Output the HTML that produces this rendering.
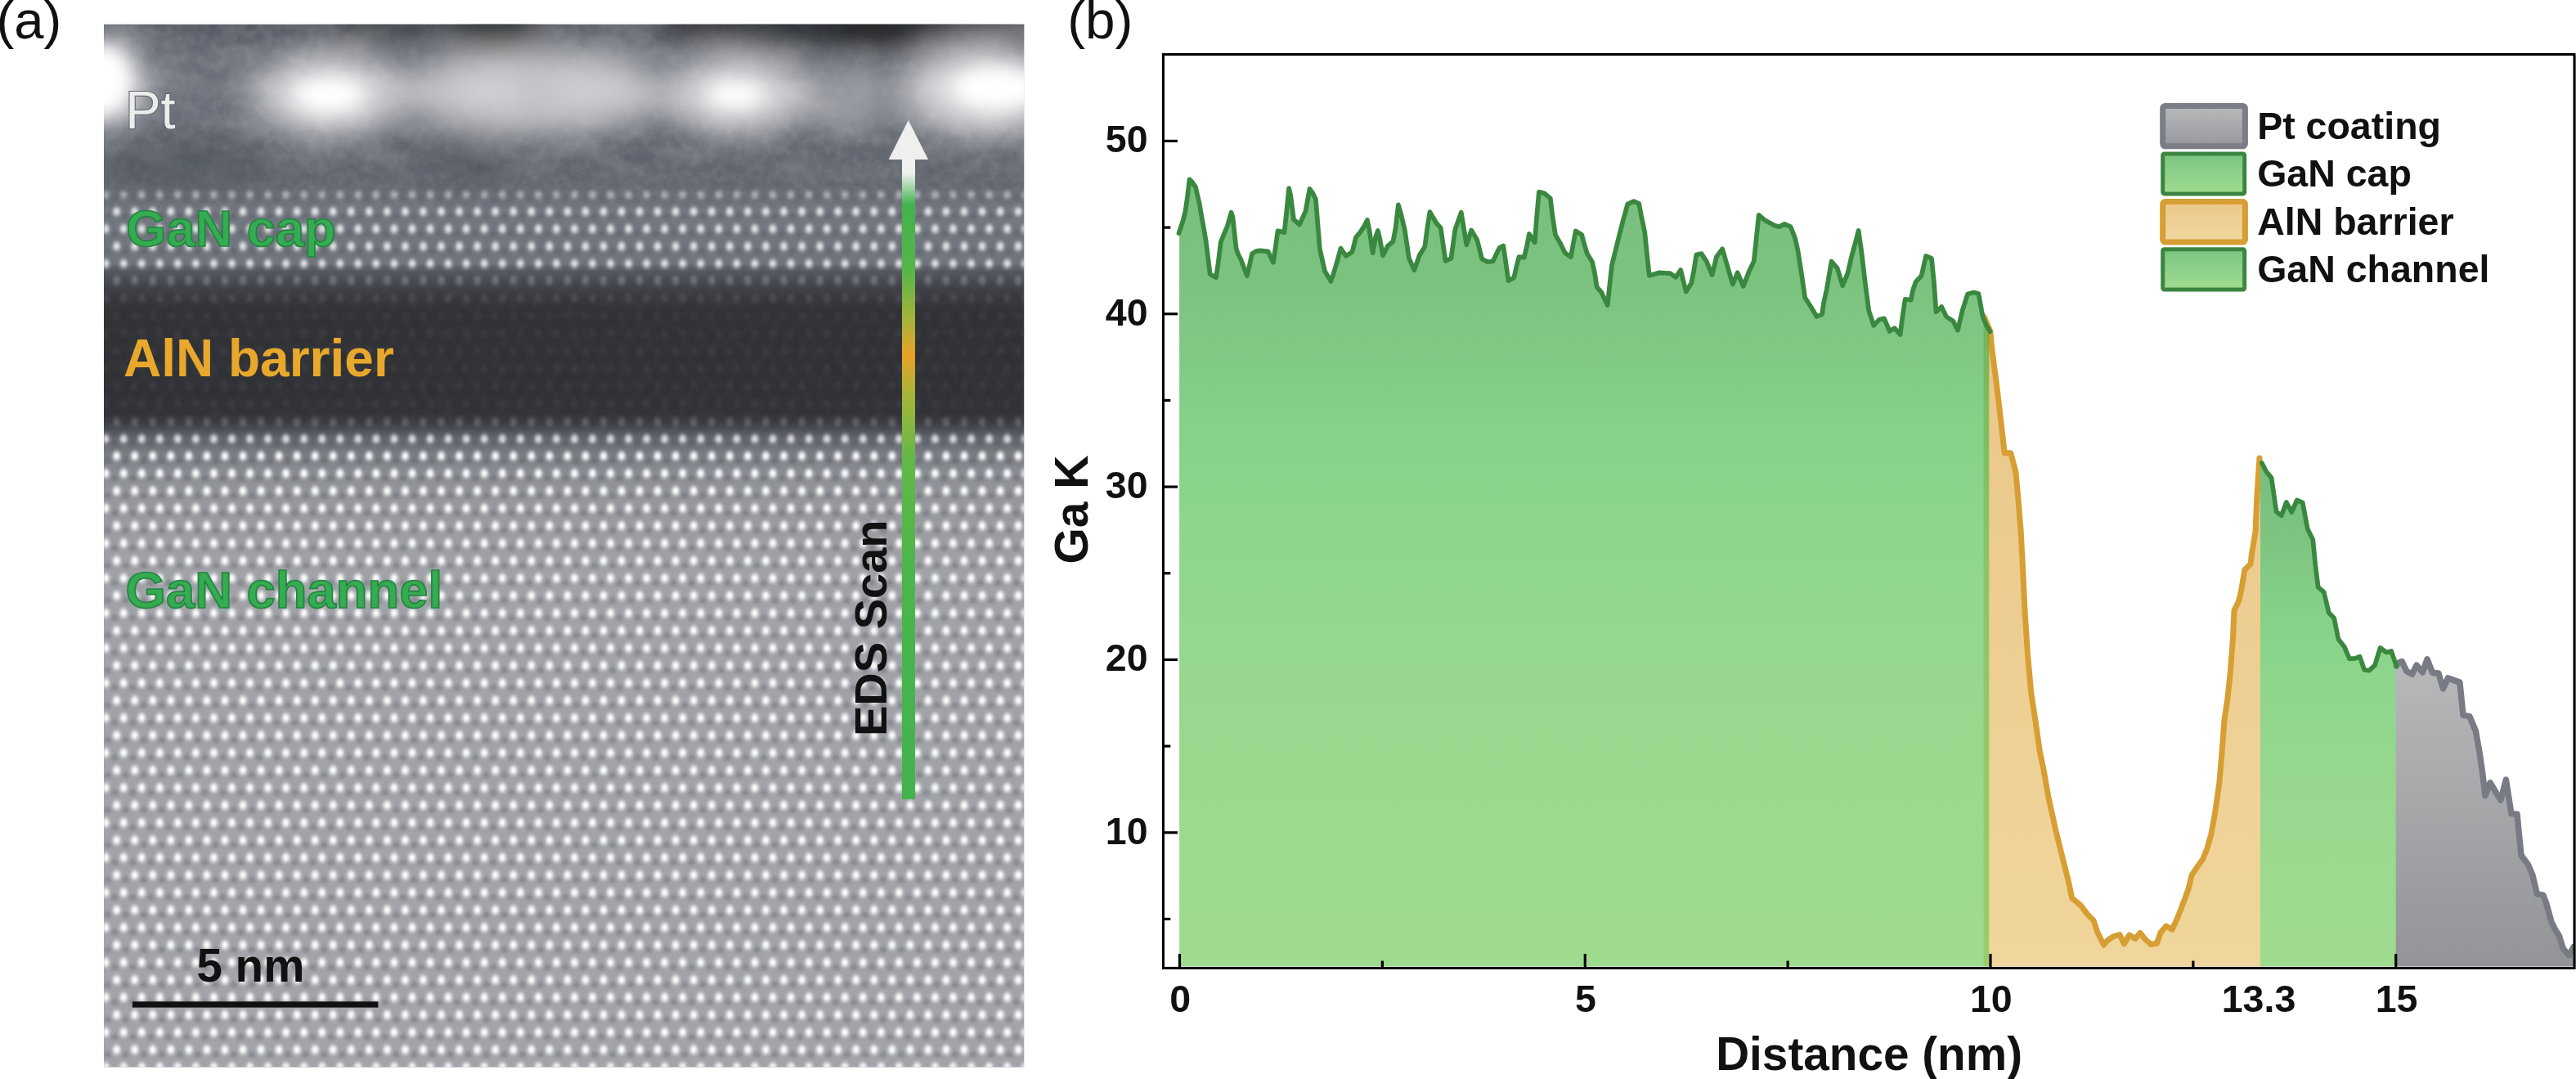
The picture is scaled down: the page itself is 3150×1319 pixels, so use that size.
<!DOCTYPE html>
<html><head><meta charset="utf-8"><title>Figure</title>
<style>
html,body{margin:0;padding:0;background:#fff;}
body{width:3150px;height:1319px;overflow:hidden;position:relative;}
svg{display:block;position:absolute;left:0;top:0;will-change:transform;}
text{font-family:"Liberation Sans",sans-serif;}
.b{font-weight:bold;}
</style></head><body>
<svg width="3150" height="1319" viewBox="0 0 3150 1319">
<defs>

<clipPath id="temclip"><rect x="127.0" y="29.5" width="1125.5" height="1275.3"/></clipPath>
<radialGradient id="dot"><stop offset="0" stop-color="#fff" stop-opacity="1"/><stop offset="0.28" stop-color="#fff" stop-opacity="0.96"/><stop offset="0.55" stop-color="#fff" stop-opacity="0.52"/><stop offset="0.8" stop-color="#fff" stop-opacity="0.16"/><stop offset="1" stop-color="#fff" stop-opacity="0"/></radialGradient>
<radialGradient id="dk"><stop offset="0" stop-color="#33363e" stop-opacity="0.3"/><stop offset="1" stop-color="#33363e" stop-opacity="0"/></radialGradient>
<pattern id="lat" x="129.15" y="226.325" width="22.05" height="42.7" patternUnits="userSpaceOnUse"><ellipse cx="11.03" cy="16.68" rx="6.5" ry="6" fill="url(#dk)"/><ellipse cx="24.52" cy="38.03" rx="6.5" ry="6" fill="url(#dk)"/><ellipse cx="2.47" cy="38.03" rx="6.5" ry="6" fill="url(#dk)"/><ellipse cx="0.00" cy="10.68" rx="7.3" ry="8.9" fill="url(#dot)"/><ellipse cx="22.05" cy="10.68" rx="7.3" ry="8.9" fill="url(#dot)"/><ellipse cx="13.50" cy="32.03" rx="7.3" ry="8.9" fill="url(#dot)"/><ellipse cx="-8.55" cy="32.03" rx="7.3" ry="8.9" fill="url(#dot)"/><ellipse cx="35.55" cy="32.03" rx="7.3" ry="8.9" fill="url(#dot)"/></pattern>

<linearGradient id="tembg" gradientUnits="userSpaceOnUse" x1="0" y1="29.5" x2="0" y2="1304.8">
<stop offset="0.0000" stop-color="#555963"/>
<stop offset="0.0239" stop-color="#646872"/>
<stop offset="0.0631" stop-color="#6e727c"/>
<stop offset="0.0945" stop-color="#686c76"/>
<stop offset="0.1141" stop-color="#5e626c"/>
<stop offset="0.1533" stop-color="#62666f"/>
<stop offset="0.1627" stop-color="#696d76"/>
<stop offset="0.1792" stop-color="#72767f"/>
<stop offset="0.2294" stop-color="#70747d"/>
<stop offset="0.2372" stop-color="#555860"/>
<stop offset="0.2474" stop-color="#45484f"/>
<stop offset="0.2607" stop-color="#393a3f"/>
<stop offset="0.2748" stop-color="#313236"/>
<stop offset="0.3533" stop-color="#303135"/>
<stop offset="0.3729" stop-color="#323338"/>
<stop offset="0.3815" stop-color="#393b42"/>
<stop offset="0.3901" stop-color="#50535a"/>
<stop offset="0.3987" stop-color="#676a72"/>
<stop offset="0.4160" stop-color="#7e8188"/>
<stop offset="0.4332" stop-color="#8c8f95"/>
<stop offset="0.4552" stop-color="#95979d"/>
<stop offset="0.4944" stop-color="#9c9ea3"/>
<stop offset="0.5258" stop-color="#a0a2a7"/>
<stop offset="1.0000" stop-color="#a2a4a9"/>
</linearGradient>
<linearGradient id="latmg" gradientUnits="userSpaceOnUse" x1="0" y1="29.5" x2="0" y2="1304.8">
<stop offset="0.0000" stop-color="rgb(0,0,0)"/>
<stop offset="0.1541" stop-color="rgb(0,0,0)"/>
<stop offset="0.1627" stop-color="rgb(102,102,102)"/>
<stop offset="0.1792" stop-color="rgb(199,199,199)"/>
<stop offset="0.2294" stop-color="rgb(199,199,199)"/>
<stop offset="0.2450" stop-color="rgb(56,56,56)"/>
<stop offset="0.2592" stop-color="rgb(26,26,26)"/>
<stop offset="0.2748" stop-color="rgb(10,10,10)"/>
<stop offset="0.3689" stop-color="rgb(10,10,10)"/>
<stop offset="0.3823" stop-color="rgb(51,51,51)"/>
<stop offset="0.3987" stop-color="rgb(204,204,204)"/>
<stop offset="0.4160" stop-color="rgb(255,255,255)"/>
<stop offset="1.0000" stop-color="rgb(255,255,255)"/>
</linearGradient>
<mask id="latmask" maskUnits="userSpaceOnUse" x="127.0" y="29.5" width="1125.5" height="1275.3"><rect x="127.0" y="29.5" width="1125.5" height="1275.3" fill="url(#latmg)"/></mask>
<filter id="blur30" x="-50%" y="-50%" width="200%" height="200%"><feGaussianBlur stdDeviation="20"/></filter>
<filter id="blur14" x="-50%" y="-50%" width="200%" height="200%"><feGaussianBlur stdDeviation="11"/></filter>
<linearGradient id="gm1g" gradientUnits="userSpaceOnUse" x1="0" y1="29.5" x2="0" y2="1304.8"><stop offset="0" stop-color="#fff"/><stop offset="0.15" stop-color="#fff"/><stop offset="0.19" stop-color="#666"/><stop offset="0.24" stop-color="#3a3a3a"/><stop offset="0.4" stop-color="#3a3a3a"/><stop offset="0.45" stop-color="#555"/><stop offset="1" stop-color="#555"/></linearGradient>
<linearGradient id="gm2g" gradientUnits="userSpaceOnUse" x1="0" y1="29.5" x2="0" y2="270"><stop offset="0" stop-color="#fff"/><stop offset="0.68" stop-color="#fff"/><stop offset="0.86" stop-color="#000"/><stop offset="1" stop-color="#000"/></linearGradient>
<mask id="gm1" maskUnits="userSpaceOnUse" x="127.0" y="29.5" width="1125.5" height="1275.3"><rect x="127.0" y="29.5" width="1125.5" height="1275.3" fill="url(#gm1g)"/></mask>
<mask id="gm2" maskUnits="userSpaceOnUse" x="127.0" y="29.5" width="1125.5" height="240"><rect x="127.0" y="29.5" width="1125.5" height="240" fill="url(#gm2g)"/></mask>
<filter id="lblur" x="0" y="0" width="100%" height="100%"><feGaussianBlur stdDeviation="1.1"/></filter>
<filter id="grain2" x="0" y="0" width="100%" height="100%"><feTurbulence type="fractalNoise" baseFrequency="0.022 0.035" numOctaves="2" seed="3" result="n"/><feColorMatrix in="n" type="matrix" values="0 0 0 0 0.5  0 0 0 0 0.5  0 0 0 0 0.5  2.2 0 0 0 -0.8"/></filter>
<filter id="grain" x="0" y="0" width="100%" height="100%"><feTurbulence type="fractalNoise" baseFrequency="0.09" numOctaves="3" seed="7" result="n"/><feColorMatrix in="n" type="matrix" values="0 0 0 0 0.5  0 0 0 0 0.5  0 0 0 0 0.5  1.6 0 0 0 -0.55"/></filter>
<linearGradient id="arrg" gradientUnits="userSpaceOnUse" x1="0" y1="190" x2="0" y2="977">
<stop offset="0" stop-color="#efefed"/><stop offset="0.0280" stop-color="#efefed"/>
<stop offset="0.0762" stop-color="#42b24b"/>
<stop offset="0.1779" stop-color="#55b548"/>
<stop offset="0.2541" stop-color="#a4b43a"/>
<stop offset="0.3100" stop-color="#e9a226"/>
<stop offset="0.3685" stop-color="#a9b539"/>
<stop offset="0.4701" stop-color="#62b846"/>
<stop offset="0.6480" stop-color="#4bb54b"/>
<stop offset="1" stop-color="#43b24e"/></linearGradient>

<linearGradient id="gGreen" gradientUnits="userSpaceOnUse" x1="0" y1="219" x2="0" y2="1181"><stop offset="0" stop-color="#319b3c"/><stop offset="0.12" stop-color="#35a13a"/><stop offset="0.21" stop-color="#3daa40"/><stop offset="0.3" stop-color="#43b848"/><stop offset="0.45" stop-color="#51c04e"/><stop offset="0.66" stop-color="#61c351"/><stop offset="1" stop-color="#6ac853"/></linearGradient>
<linearGradient id="gCap" gradientUnits="userSpaceOnUse" x1="0" y1="560" x2="0" y2="1181"><stop offset="0" stop-color="#79be80"/><stop offset="0.12" stop-color="#7cc27f"/><stop offset="0.21" stop-color="#81c883"/><stop offset="0.3" stop-color="#85d188"/><stop offset="0.45" stop-color="#8ed68c"/><stop offset="0.66" stop-color="#98d88e"/><stop offset="1" stop-color="#9edb8f"/></linearGradient>
<linearGradient id="gOr" gradientUnits="userSpaceOnUse" x1="0" y1="387" x2="0" y2="1181"><stop offset="0" stop-color="#eac688"/><stop offset="1" stop-color="#f0d69c"/></linearGradient>
<linearGradient id="gGy" gradientUnits="userSpaceOnUse" x1="0" y1="810" x2="0" y2="1181"><stop offset="0" stop-color="#b8b8ba"/><stop offset="1" stop-color="#939498"/></linearGradient>
<linearGradient id="lgGy" gradientUnits="userSpaceOnUse" x1="0" y1="133" x2="0" y2="176"><stop offset="0" stop-color="#b6b7b9"/><stop offset="1" stop-color="#999a9e"/></linearGradient>
<linearGradient id="lgGn" gradientUnits="userSpaceOnUse" x1="0" y1="190" x2="0" y2="235"><stop offset="0" stop-color="#7dc583"/><stop offset="1" stop-color="#9ddc8f"/></linearGradient>
<linearGradient id="lgOr" gradientUnits="userSpaceOnUse" x1="0" y1="250" x2="0" y2="293"><stop offset="0" stop-color="#ebc88b"/><stop offset="1" stop-color="#f0d7a0"/></linearGradient>
<linearGradient id="lgGn2" gradientUnits="userSpaceOnUse" x1="0" y1="307" x2="0" y2="352"><stop offset="0" stop-color="#7dc583"/><stop offset="1" stop-color="#9ddc8f"/></linearGradient>
</defs>
<g clip-path="url(#temclip)">
<rect x="127.0" y="29.5" width="1125.5" height="1275.3" fill="url(#tembg)"/>
<rect x="127.0" y="29.5" width="1125.5" height="1275.3" filter="url(#grain)" opacity="0.2" mask="url(#gm1)"/>
<rect x="127.0" y="29.5" width="1125.5" height="240" filter="url(#grain2)" opacity="0.22" mask="url(#gm2)"/>
<g filter="url(#blur30)">
<ellipse cx="128" cy="100" rx="45" ry="50" fill="#ffffff" fill-opacity="1.0"/>
<ellipse cx="402" cy="116" rx="92" ry="50" fill="#ffffff" fill-opacity="0.7"/>
<ellipse cx="650" cy="112" rx="160" ry="52" fill="#d0d1d3" fill-opacity="0.85"/>
<ellipse cx="595" cy="108" rx="40" ry="25" fill="#dcdcde" fill-opacity="0.6"/>
<ellipse cx="735" cy="110" rx="60" ry="35" fill="#d6d6d8" fill-opacity="0.5"/>
<ellipse cx="900" cy="116" rx="88" ry="46" fill="#ffffff" fill-opacity="0.7"/>
<ellipse cx="1035" cy="122" rx="55" ry="40" fill="#b6b7ba" fill-opacity="0.6"/>
<ellipse cx="1200" cy="112" rx="95" ry="55" fill="#ffffff" fill-opacity="0.7"/>
<ellipse cx="608" cy="36" rx="60" ry="26" fill="#101215" fill-opacity="1.0"/>
<ellipse cx="608" cy="36" rx="40" ry="16" fill="#101215" fill-opacity="1.0"/>
<ellipse cx="465" cy="33" rx="80" ry="16" fill="#30333a" fill-opacity="0.8"/>
<ellipse cx="1030" cy="30" rx="235" ry="24" fill="#24262b" fill-opacity="0.95"/>
<ellipse cx="1070" cy="36" rx="60" ry="20" fill="#101215" fill-opacity="0.8"/>
<ellipse cx="850" cy="30" rx="50" ry="16" fill="#202226" fill-opacity="0.7"/>
<ellipse cx="230" cy="202" rx="115" ry="22" fill="#4a4e57" fill-opacity="0.6"/>
<ellipse cx="575" cy="195" rx="42" ry="25" fill="#454952" fill-opacity="0.6"/>
<ellipse cx="760" cy="40" rx="30" ry="12" fill="#a0a3aa" fill-opacity="0.5"/>
</g>
<g filter="url(#blur14)">
<ellipse cx="402" cy="116" rx="44" ry="22" fill="#fff" fill-opacity="1"/>
<ellipse cx="900" cy="116" rx="36" ry="17" fill="#fff" fill-opacity="1"/>
<ellipse cx="1218" cy="108" rx="56" ry="27" fill="#fff" fill-opacity="1"/>
<ellipse cx="123" cy="98" rx="32" ry="40" fill="#fff" fill-opacity="1"/>
</g>
<rect x="127.0" y="29.5" width="1125.5" height="1275.3" fill="url(#lat)" mask="url(#latmask)" filter="url(#lblur)"/>
</g>
<text x="153.2" y="156.6" font-size="65" fill="#ececec" stroke="#62656d" stroke-width="2.2" stroke-linejoin="miter" paint-order="stroke">Pt</text>
<text class="b" x="154.3" y="301" font-size="63.2" fill="#35ab52" stroke="#23843e" stroke-width="1.7">GaN cap</text>
<text class="b" x="151" y="460.4" font-size="64" fill="#e8a82c">AlN barrier</text>
<text class="b" x="153.6" y="743" font-size="63.4" fill="#35ab52" stroke="#23843e" stroke-width="1.7">GaN channel</text>
<rect x="1103" y="190" width="16" height="787" fill="url(#arrg)"/>
<polygon points="1110.8,147 1135,195 1086.6,195" fill="#efefed"/>
<text class="b" transform="translate(1084.4,900) rotate(-90)" font-size="56" fill="#111">EDS Scan</text>
<rect x="162" y="1224.3" width="300.5" height="7.3" fill="#111"/>
<text class="b" x="240.5" y="1199.9" font-size="56.5" fill="#111">5 nm</text>
<text x="-4.6" y="46.9" font-size="65.3" fill="#111">(a)</text>
<text x="1305.2" y="46.8" font-size="65.6" fill="#111">(b)</text>
<polygon points="2425.6,1181.3 2425.6,386 2433.8,405.0 2436.2,430.0 2441.2,467.5 2446.2,510.0 2451.2,553.8 2458.8,553.8 2465.0,577.5 2467.5,605.0 2471.2,649.8 2473.8,700.0 2476.2,750.0 2479.5,800.0 2483.8,847.5 2488.8,880.0 2494.5,919.8 2498.8,940.0 2505.0,975.0 2513.8,1015.0 2522.5,1050.0 2528.8,1075.0 2533.8,1098.0 2543.8,1106.2 2552.5,1117.5 2560.0,1125.0 2565.0,1140.0 2572.5,1155.0 2578.0,1148.8 2585.0,1144.5 2592.0,1142.5 2597.5,1153.8 2603.8,1143.0 2611.2,1147.5 2617.0,1140.5 2623.8,1148.8 2630.5,1154.5 2637.5,1153.0 2642.0,1140.0 2648.8,1132.0 2656.2,1136.2 2662.5,1122.5 2671.2,1100.0 2676.2,1086.2 2680.0,1070.0 2687.5,1058.8 2693.8,1050.0 2698.8,1037.5 2703.8,1020.0 2708.8,992.5 2713.8,957.5 2717.0,920.0 2720.0,880.0 2723.8,855.0 2727.5,820.0 2730.5,780.0 2732.0,746.2 2737.5,735.0 2740.5,722.5 2745.0,696.2 2752.0,689.5 2753.8,675.0 2758.0,650.0 2760.0,605.0 2763.0,560.0 2764,560.0 2764,1181.3" fill="url(#gOr)"/>
<polyline points="2426.2,387.5 2433.8,405.0 2436.2,430.0 2441.2,467.5 2446.2,510.0 2451.2,553.8 2458.8,553.8 2465.0,577.5 2467.5,605.0 2471.2,649.8 2473.8,700.0 2476.2,750.0 2479.5,800.0 2483.8,847.5 2488.8,880.0 2494.5,919.8 2498.8,940.0 2505.0,975.0 2513.8,1015.0 2522.5,1050.0 2528.8,1075.0 2533.8,1098.0 2543.8,1106.2 2552.5,1117.5 2560.0,1125.0 2565.0,1140.0 2572.5,1155.0 2578.0,1148.8 2585.0,1144.5 2592.0,1142.5 2597.5,1153.8 2603.8,1143.0 2611.2,1147.5 2617.0,1140.5 2623.8,1148.8 2630.5,1154.5 2637.5,1153.0 2642.0,1140.0 2648.8,1132.0 2656.2,1136.2 2662.5,1122.5 2671.2,1100.0 2676.2,1086.2 2680.0,1070.0 2687.5,1058.8 2693.8,1050.0 2698.8,1037.5 2703.8,1020.0 2708.8,992.5 2713.8,957.5 2717.0,920.0 2720.0,880.0 2723.8,855.0 2727.5,820.0 2730.5,780.0 2732.0,746.2 2737.5,735.0 2740.5,722.5 2745.0,696.2 2752.0,689.5 2753.8,675.0 2758.0,650.0 2760.0,605.0 2763.0,560.0" fill="none" stroke="#d79e33" stroke-width="7" stroke-linejoin="round" stroke-linecap="round"/>
<polygon points="1442.1,1181.3 1442.1,285.1 1446.7,269.3 1449.5,258.2 1451.9,241.5 1454.5,219.3 1457.8,222.6 1461.9,228.5 1466.7,248.9 1469.9,267.5 1474.5,293.4 1479.7,335.1 1483.8,337.5 1487.1,339.4 1489.7,321.2 1492.7,296.2 1496.4,286.9 1500.4,277.7 1505.6,259.7 1507.5,265.6 1511.6,303.6 1513.8,310.1 1517.5,317.5 1524.9,337.0 1528.2,323.1 1531.0,310.1 1536.6,306.8 1541.2,306.4 1550.5,307.3 1557.0,320.8 1559.7,302.7 1562.5,282.3 1570.5,284.1 1573.1,260.0 1576.1,230.0 1578.3,239.7 1582.0,268.4 1589.0,274.5 1593.1,265.6 1596.5,258.2 1601.5,230.8 1605.2,235.9 1608.9,243.4 1610.7,265.6 1613.9,304.5 1620.0,331.4 1627.4,343.8 1630.2,336.0 1635.7,317.5 1639.5,303.6 1645.9,312.9 1653.4,308.2 1658.0,290.1 1663.2,284.1 1668.2,276.4 1671.9,268.9 1674.3,280.4 1678.7,309.2 1682.1,289.7 1684.9,281.9 1687.6,293.4 1691.0,312.3 1696.9,300.8 1703.4,295.3 1706.6,278.6 1709.9,250.4 1712.7,260.0 1717.7,280.4 1722.9,315.7 1729.4,330.1 1735.8,311.9 1742.3,301.8 1745.1,280.4 1748.4,259.1 1753.4,267.5 1756.6,273.0 1761.8,278.6 1763.6,291.6 1767.7,319.0 1774.4,316.0 1779.4,280.4 1786.8,259.7 1788.7,271.2 1793.3,299.3 1799.2,281.4 1806.3,293.4 1812.2,316.6 1819.2,320.3 1825.7,319.4 1830.0,310.1 1833.7,302.7 1838.3,300.5 1841.1,319.4 1844.5,343.1 1851.3,339.4 1854.1,326.8 1857.4,314.2 1863.7,314.7 1866.7,302.7 1869.9,286.0 1873.6,291.6 1876.7,296.2 1879.1,265.6 1881.9,234.5 1888.4,236.3 1895.8,242.4 1898.2,261.9 1901.9,286.9 1907.8,297.1 1913.8,309.2 1920.8,314.2 1923.6,299.0 1926.8,282.3 1934.2,286.9 1937.5,299.0 1940.8,310.1 1947.1,320.3 1950.1,334.2 1952.7,350.9 1958.3,357.4 1965.7,373.1 1968.1,350.9 1970.9,324.9 1973.1,315.7 1980.5,286.0 1984.8,269.3 1990.3,249.3 1997.7,246.1 2004.2,248.9 2007.0,263.8 2011.3,284.1 2013.5,306.4 2016.8,337.0 2029.3,333.3 2042.2,334.2 2049.1,338.8 2055.2,330.1 2058.0,341.6 2061.7,356.4 2068.2,346.2 2071.0,332.3 2074.3,311.6 2080.6,310.1 2086.7,319.4 2093.6,336.0 2099.1,313.8 2106.2,304.2 2112.7,326.8 2118.8,347.5 2124.7,333.3 2131.8,349.9 2138.6,332.3 2144.7,319.4 2147.3,295.3 2150.7,262.8 2157.7,268.9 2170.1,275.8 2175.7,277.1 2182.2,273.9 2189.6,277.1 2195.2,291.6 2198.5,306.4 2202.6,332.3 2207.2,363.8 2215.5,376.8 2221.5,387.0 2228.1,384.2 2230.0,370.5 2233.7,353.8 2239.6,319.5 2246.7,327.8 2253.2,349.2 2259.3,334.3 2264.3,313.0 2268.9,296.3 2272.6,281.9 2276.3,307.5 2280.4,342.7 2285.2,379.7 2291.2,397.9 2298.2,390.5 2304.1,389.4 2310.6,404.8 2316.7,401.1 2323.6,409.0 2326.4,387.2 2329.7,365.8 2336.6,366.8 2339.4,353.8 2342.7,344.5 2349.6,337.1 2355.1,313.0 2362.0,315.8 2364.9,344.5 2367.5,381.2 2374.2,375.1 2380.1,387.2 2388.5,392.7 2394.0,403.8 2399.6,379.7 2406.1,359.4 2413.5,357.5 2419.4,359.0 2424.6,387.2 2429.3,398.3 2432.3,403.3 2432.3,1181.3" fill="url(#gGreen)" fill-opacity="0.65"/>
<polygon points="2764,1181.3 2764,559.9 2765.9,565.9 2771.1,576.3 2777.6,584.1 2783.6,625.6 2789.8,630.3 2795.8,614.0 2802.3,626.2 2808.8,611.4 2815.8,614.7 2821.7,646.4 2828.2,659.4 2831.3,690.5 2834.7,717.8 2841.7,723.7 2847.7,748.9 2854.2,755.4 2859.4,781.3 2866.6,790.4 2872.9,805.2 2880.0,804.8 2885.6,802.6 2891.1,818.7 2897.1,819.7 2904.1,813.2 2910.6,791.9 2918.0,797.4 2924.1,795.9 2930.4,814.1 2930.2,814.1 2930.2,1181.3" fill="url(#gCap)"/>
<polygon points="2929.7,1181.3 2929.7,814.1 2930.4,814.1 2931.9,810.4 2937.1,808.5 2943.0,820.6 2949.5,824.3 2955.1,813.2 2962.5,821.9 2968.0,805.8 2974.5,822.4 2981.9,823.0 2987.5,841.9 2993.4,828.9 3007.9,834.1 3012.0,874.3 3019.9,875.6 3027.4,893.8 3032.0,919.7 3035.3,942.0 3039.0,972.6 3045.0,956.8 3057.9,978.1 3064.4,953.1 3070.9,994.6 3078.0,995.2 3079.8,1014.1 3083.0,1045.6 3091.3,1056.7 3096.9,1069.7 3102.4,1092.9 3109.8,1094.2 3113.9,1104.9 3120.0,1127.2 3124.7,1136.4 3129.3,1143.8 3134.3,1159.6 3141.4,1167.9 3146.9,1157.7 3148,1157.7 3148,1181.3" fill="url(#gGy)"/>
<polyline points="2930.4,814.1 2931.9,810.4 2937.1,808.5 2943.0,820.6 2949.5,824.3 2955.1,813.2 2962.5,821.9 2968.0,805.8 2974.5,822.4 2981.9,823.0 2987.5,841.9 2993.4,828.9 3007.9,834.1 3012.0,874.3 3019.9,875.6 3027.4,893.8 3032.0,919.7 3035.3,942.0 3039.0,972.6 3045.0,956.8 3057.9,978.1 3064.4,953.1 3070.9,994.6 3078.0,995.2 3079.8,1014.1 3083.0,1045.6 3091.3,1056.7 3096.9,1069.7 3102.4,1092.9 3109.8,1094.2 3113.9,1104.9 3120.0,1127.2 3124.7,1136.4 3129.3,1143.8 3134.3,1159.6 3141.4,1167.9 3146.9,1157.7" fill="none" stroke="#787a84" stroke-width="7.5" stroke-linejoin="round" stroke-linecap="round"/>
<polyline points="2765.9,565.9 2771.1,576.3 2777.6,584.1 2783.6,625.6 2789.8,630.3 2795.8,614.0 2802.3,626.2 2808.8,611.4 2815.8,614.7 2821.7,646.4 2828.2,659.4 2831.3,690.5 2834.7,717.8 2841.7,723.7 2847.7,748.9 2854.2,755.4 2859.4,781.3 2866.6,790.4 2872.9,805.2 2880.0,804.8 2885.6,802.6 2891.1,818.7 2897.1,819.7 2904.1,813.2 2910.6,791.9 2918.0,797.4 2924.1,795.9 2930.4,814.1" fill="none" stroke="#3a883f" stroke-width="5.7" stroke-linejoin="round" stroke-linecap="round"/>
<polyline points="1441.5,285.1 1446.7,269.3 1449.5,258.2 1451.9,241.5 1454.5,219.3 1457.8,222.6 1461.9,228.5 1466.7,248.9 1469.9,267.5 1474.5,293.4 1479.7,335.1 1483.8,337.5 1487.1,339.4 1489.7,321.2 1492.7,296.2 1496.4,286.9 1500.4,277.7 1505.6,259.7 1507.5,265.6 1511.6,303.6 1513.8,310.1 1517.5,317.5 1524.9,337.0 1528.2,323.1 1531.0,310.1 1536.6,306.8 1541.2,306.4 1550.5,307.3 1557.0,320.8 1559.7,302.7 1562.5,282.3 1570.5,284.1 1573.1,260.0 1576.1,230.0 1578.3,239.7 1582.0,268.4 1589.0,274.5 1593.1,265.6 1596.5,258.2 1601.5,230.8 1605.2,235.9 1608.9,243.4 1610.7,265.6 1613.9,304.5 1620.0,331.4 1627.4,343.8 1630.2,336.0 1635.7,317.5 1639.5,303.6 1645.9,312.9 1653.4,308.2 1658.0,290.1 1663.2,284.1 1668.2,276.4 1671.9,268.9 1674.3,280.4 1678.7,309.2 1682.1,289.7 1684.9,281.9 1687.6,293.4 1691.0,312.3 1696.9,300.8 1703.4,295.3 1706.6,278.6 1709.9,250.4 1712.7,260.0 1717.7,280.4 1722.9,315.7 1729.4,330.1 1735.8,311.9 1742.3,301.8 1745.1,280.4 1748.4,259.1 1753.4,267.5 1756.6,273.0 1761.8,278.6 1763.6,291.6 1767.7,319.0 1774.4,316.0 1779.4,280.4 1786.8,259.7 1788.7,271.2 1793.3,299.3 1799.2,281.4 1806.3,293.4 1812.2,316.6 1819.2,320.3 1825.7,319.4 1830.0,310.1 1833.7,302.7 1838.3,300.5 1841.1,319.4 1844.5,343.1 1851.3,339.4 1854.1,326.8 1857.4,314.2 1863.7,314.7 1866.7,302.7 1869.9,286.0 1873.6,291.6 1876.7,296.2 1879.1,265.6 1881.9,234.5 1888.4,236.3 1895.8,242.4 1898.2,261.9 1901.9,286.9 1907.8,297.1 1913.8,309.2 1920.8,314.2 1923.6,299.0 1926.8,282.3 1934.2,286.9 1937.5,299.0 1940.8,310.1 1947.1,320.3 1950.1,334.2 1952.7,350.9 1958.3,357.4 1965.7,373.1 1968.1,350.9 1970.9,324.9 1973.1,315.7 1980.5,286.0 1984.8,269.3 1990.3,249.3 1997.7,246.1 2004.2,248.9 2007.0,263.8 2011.3,284.1 2013.5,306.4 2016.8,337.0 2029.3,333.3 2042.2,334.2 2049.1,338.8 2055.2,330.1 2058.0,341.6 2061.7,356.4 2068.2,346.2 2071.0,332.3 2074.3,311.6 2080.6,310.1 2086.7,319.4 2093.6,336.0 2099.1,313.8 2106.2,304.2 2112.7,326.8 2118.8,347.5 2124.7,333.3 2131.8,349.9 2138.6,332.3 2144.7,319.4 2147.3,295.3 2150.7,262.8 2157.7,268.9 2170.1,275.8 2175.7,277.1 2182.2,273.9 2189.6,277.1 2195.2,291.6 2198.5,306.4 2202.6,332.3 2207.2,363.8 2215.5,376.8 2221.5,387.0 2228.1,384.2 2230.0,370.5 2233.7,353.8 2239.6,319.5 2246.7,327.8 2253.2,349.2 2259.3,334.3 2264.3,313.0 2268.9,296.3 2272.6,281.9 2276.3,307.5 2280.4,342.7 2285.2,379.7 2291.2,397.9 2298.2,390.5 2304.1,389.4 2310.6,404.8 2316.7,401.1 2323.6,409.0 2326.4,387.2 2329.7,365.8 2336.6,366.8 2339.4,353.8 2342.7,344.5 2349.6,337.1 2355.1,313.0 2362.0,315.8 2364.9,344.5 2367.5,381.2 2374.2,375.1 2380.1,387.2 2388.5,392.7 2394.0,403.8 2399.6,379.7 2406.1,359.4 2413.5,357.5 2419.4,359.0 2424.6,387.2 2429.3,398.3 2433.5,405.3" fill="none" stroke="#3a883f" stroke-width="5.7" stroke-linejoin="round" stroke-linecap="round"/>
<rect x="1422.5" y="66.5" width="1725.5" height="1116.9" fill="none" stroke="#000" stroke-width="3"/>
<rect x="3149" y="67.5" width="1" height="1117.4" fill="#5a5a5a"/>
<line x1="1422.5" y1="1123.4750000000001" x2="1431.3" y2="1123.4750000000001" stroke="#000" stroke-width="3.2"/>
<line x1="1422.5" y1="1017.8000000000001" x2="1440" y2="1017.8000000000001" stroke="#000" stroke-width="3.2"/>
<text class="b" x="1403.6" y="1031.7" font-size="46.5" text-anchor="end" fill="#111">10</text>
<line x1="1422.5" y1="912.125" x2="1431.3" y2="912.125" stroke="#000" stroke-width="3.2"/>
<line x1="1422.5" y1="806.45" x2="1440" y2="806.45" stroke="#000" stroke-width="3.2"/>
<text class="b" x="1403.6" y="820.4" font-size="46.5" text-anchor="end" fill="#111">20</text>
<line x1="1422.5" y1="700.775" x2="1431.3" y2="700.775" stroke="#000" stroke-width="3.2"/>
<line x1="1422.5" y1="595.1" x2="1440" y2="595.1" stroke="#000" stroke-width="3.2"/>
<text class="b" x="1403.6" y="609.0" font-size="46.5" text-anchor="end" fill="#111">30</text>
<line x1="1422.5" y1="489.42500000000007" x2="1431.3" y2="489.42500000000007" stroke="#000" stroke-width="3.2"/>
<line x1="1422.5" y1="383.75" x2="1440" y2="383.75" stroke="#000" stroke-width="3.2"/>
<text class="b" x="1403.6" y="397.6" font-size="46.5" text-anchor="end" fill="#111">40</text>
<line x1="1422.5" y1="278.07500000000005" x2="1431.3" y2="278.07500000000005" stroke="#000" stroke-width="3.2"/>
<line x1="1422.5" y1="172.4" x2="1440" y2="172.4" stroke="#000" stroke-width="3.2"/>
<text class="b" x="1403.6" y="186.3" font-size="46.5" text-anchor="end" fill="#111">50</text>
<line x1="1442.5" y1="1183.4" x2="1442.5" y2="1166" stroke="#000" stroke-width="3.2"/>
<line x1="1690.375" y1="1183.4" x2="1690.375" y2="1174.5" stroke="#000" stroke-width="3.2"/>
<line x1="1938.25" y1="1183.4" x2="1938.25" y2="1166" stroke="#000" stroke-width="3.2"/>
<line x1="2186.125" y1="1183.4" x2="2186.125" y2="1174.5" stroke="#000" stroke-width="3.2"/>
<line x1="2434.0" y1="1183.4" x2="2434.0" y2="1166" stroke="#000" stroke-width="3.2"/>
<line x1="2681.875" y1="1183.4" x2="2681.875" y2="1174.5" stroke="#000" stroke-width="3.2"/>
<line x1="2929.75" y1="1183.4" x2="2929.75" y2="1166" stroke="#000" stroke-width="3.2"/>
<text class="b" x="1443.3" y="1237.3" font-size="46.5" text-anchor="middle" fill="#111">0</text>
<text class="b" x="1939.0" y="1237.3" font-size="46.5" text-anchor="middle" fill="#111">5</text>
<text class="b" x="2434.8" y="1237.3" font-size="46.5" text-anchor="middle" fill="#111">10</text>
<text class="b" x="2762.0" y="1237.3" font-size="46.5" text-anchor="middle" fill="#111">13.3</text>
<text class="b" x="2930.6" y="1237.3" font-size="46.5" text-anchor="middle" fill="#111">15</text>
<text class="b" x="2285.6" y="1307.7" font-size="56.7" text-anchor="middle" fill="#111">Distance (nm)</text>
<text class="b" transform="translate(1330.3,623) rotate(-90)" font-size="57" text-anchor="middle" fill="#111">Ga K</text>
<rect x="2644.7" y="129.4" width="100.7" height="49.4" rx="3" fill="url(#lgGy)" stroke="#7b7d87" stroke-width="7"/>
<rect x="2644.7" y="187.9" width="100" height="49" rx="2" fill="url(#lgGn)" stroke="#3b8540" stroke-width="5"/>
<rect x="2644.7" y="246.5" width="100.7" height="49.6" rx="3" fill="url(#lgOr)" stroke="#d79e33" stroke-width="7"/>
<rect x="2644.7" y="304.8" width="100" height="49.2" rx="2" fill="url(#lgGn2)" stroke="#3b8540" stroke-width="5"/>
<text class="b" x="2760.2" y="169.8" font-size="46.5" fill="#111">Pt coating</text>
<text class="b" x="2760.2" y="228.2" font-size="46.5" fill="#111">GaN cap</text>
<text class="b" x="2760.2" y="286.6" font-size="46.5" fill="#111">AlN barrier</text>
<text class="b" x="2760.2" y="345.0" font-size="46.5" fill="#111">GaN channel</text>
</svg></body></html>
